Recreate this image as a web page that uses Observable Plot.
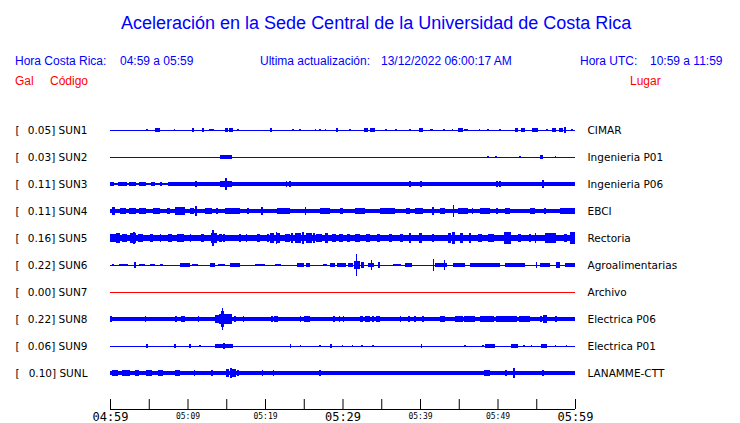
<!DOCTYPE html>
<html><head><meta charset="utf-8">
<script src="https://cdn.jsdelivr.net/npm/d3@7"></script>
<script src="https://cdn.jsdelivr.net/npm/@observablehq/plot@0.6"></script>
<style>
body{margin:0;background:#fff;}
#wrap{position:relative;width:740px;height:423px;overflow:hidden;background:#fff;}
#hdr{position:relative;height:100px;font-family:"Liberation Sans",Arial,sans-serif;}
#hdr span{position:absolute;white-space:pre;line-height:1;}
.t{font-size:18px;color:#0000ff;}
.s{font-size:12px;color:#0000ff;}
.r{font-size:12px;color:#ff0000;}
</style></head><body>
<div id="wrap">
<div id="hdr">
 <span class="t" style="left:121px;top:14px">Aceleración en la Sede Central de la Universidad de Costa Rica</span>
 <span class="s" style="left:15px;top:55px">Hora Costa Rica:</span>
 <span class="s" style="left:120px;top:55px">04:59 a 05:59</span>
 <span class="s" style="left:260px;top:55px">Ultima actualización:</span>
 <span class="s" style="left:381px;top:55px">13/12/2022 06:00:17 AM</span>
 <span class="s" style="left:580px;top:55px">Hora UTC:</span>
 <span class="s" style="left:650px;top:55px">10:59 a 11:59</span>
 <span class="r" style="left:15px;top:75px">Gal</span>
 <span class="r" style="left:50px;top:75px">Código</span>
 <span class="r" style="left:630px;top:75px">Lugar</span>
</div>
<div id="chart"></div>
</div>
<script>
// ---- data ----
const stations = ["SUN1","SUN2","SUN3","SUN4","SUN5","SUN6","SUN7","SUN8","SUN9","SUNL"];
const peakGal  = ["0.05","0.03","0.11","0.11","0.16","0.22","0.00","0.22","0.06","0.10"];
const places   = ["CIMAR","Ingenieria P01","Ingenieria P06","EBCI","Rectoria","Agroalimentarias","Archivo","Electrica P06","Electrica P01","LANAMME-CTT"];
const status   = ["ok","ok","ok","ok","ok","ok","off","ok","ok","ok"];
// envelope segments per station: [start minute, end minute, half amplitude (gal)], minutes after 04:59
const SUN1 = [[4.7,4.9,0.02],[5.8,6.5,0.04],[8.2,8.4,0.02],[10.6,10.8,0.03],[11.9,12.1,0.045],[12.8,13.4,0.02],[14.8,15.2,0.035],[15.4,15.9,0.03],[16.4,16.6,0.02],[20.7,20.9,0.04],[23.5,23.7,0.025],[24.4,24.6,0.02],[26.4,26.6,0.02],[27.0,27.2,0.025],[27.7,27.9,0.02],[29.2,29.4,0.03],[30.9,31.1,0.02],[32.8,33.3,0.03],[33.6,34.2,0.03],[35.5,35.7,0.02],[36.8,37.0,0.02],[38.6,38.8,0.02],[39.9,40.4,0.04],[41.3,41.7,0.025],[43.0,43.2,0.02],[44.1,44.3,0.02],[44.9,45.5,0.03],[45.7,46.2,0.025],[47.6,47.8,0.02],[48.7,48.9,0.02],[50.2,50.4,0.025],[52.2,52.7,0.03],[53.0,53.5,0.03],[54.4,55.2,0.04],[56.3,56.5,0.02],[57.0,57.6,0.03],[57.9,58.4,0.03],[58.6,58.9,0.05],[59.5,59.7,0.02]];
const SUN2 = [[14.2,15.7,0.03],[48.7,48.9,0.02],[49.7,49.9,0.015],[52.8,53.0,0.02],[55.5,55.9,0.03],[57.4,57.6,0.02]];
const SUN3 = [[0,7.5,0.02],[7.5,60,0.04],[0,0.5,0.03],[1.0,2.2,0.035],[2.5,3.3,0.03],[3.8,4.6,0.03],[5.3,5.8,0.03],[6.4,6.7,0.03],[11.0,11.2,0.05],[14.2,15.7,0.065],[14.9,15.1,0.11],[22.7,22.9,0.06],[23.1,23.3,0.05],[38.6,38.8,0.055],[40.0,40.2,0.055],[49.8,50.0,0.055],[50.2,50.4,0.05],[55.7,56.0,0.07]];
const SUN4 = [[0,60,0.04],[0.2,0.6,0.07],[1.3,2.0,0.055],[2.5,3.4,0.06],[3.8,4.6,0.055],[5.6,6.4,0.05],[7.4,7.8,0.055],[8.4,9.7,0.07],[8.9,9.1,0.085],[10.3,10.9,0.06],[11.0,11.2,0.095],[12.2,13.2,0.06],[13.7,13.9,0.065],[14.8,16.8,0.055],[17.7,17.9,0.06],[19.5,19.7,0.07],[21.6,23.2,0.055],[25.1,25.3,0.075],[27.1,28.4,0.055],[29.7,30.0,0.06],[31.6,32.9,0.055],[34.8,36.8,0.055],[38.2,38.7,0.065],[39.4,40.4,0.055],[41.6,41.8,0.075],[42.6,43.2,0.055],[44.2,44.4,0.115],[44.9,46.2,0.065],[46.7,46.9,0.06],[47.7,49.0,0.05],[49.8,50.0,0.06],[51.0,51.6,0.06],[54.2,54.8,0.065],[56.0,56.2,0.065],[58.1,60,0.05]];
const SUN5 = [[0,60,0.058],[0,0.8,0.08],[0.8,1.3,0.095],[1.5,2.2,0.08],[2.6,3.4,0.1],[3.0,3.2,0.115],[3.6,4.3,0.085],[5.2,5.6,0.075],[6.4,6.6,0.07],[7.5,8.0,0.08],[8.6,9.6,0.08],[10.3,10.5,0.07],[11.8,12.1,0.075],[13.0,13.8,0.1],[13.2,13.4,0.16],[14.0,14.4,0.075],[14.6,14.9,0.08],[16.6,16.9,0.085],[17.5,17.7,0.07],[19.0,19.4,0.07],[20.2,20.5,0.085],[20.7,21.2,0.1],[21.4,21.6,0.115],[21.6,21.9,0.09],[22.6,23.2,0.085],[23.4,23.6,0.1],[23.9,24.6,0.09],[24.8,25.0,0.11],[25.3,26.0,0.09],[26.2,26.4,0.105],[26.6,27.3,0.085],[27.8,28.1,0.09],[28.6,29.2,0.08],[29.6,30.0,0.085],[30.6,31.0,0.075],[31.6,32.2,0.075],[33.0,33.6,0.08],[34.5,34.8,0.075],[36,36.4,0.075],[37.4,37.8,0.08],[38.6,38.8,0.095],[39.9,40.2,0.105],[41.6,41.8,0.08],[43.6,44.0,0.09],[44.1,44.5,0.115],[45.2,45.5,0.095],[46.3,46.6,0.1],[47.5,48.0,0.075],[48.8,49.5,0.08],[50.8,51.7,0.11],[51.2,51.4,0.12],[52.6,53.0,0.075],[54.0,54.3,0.08],[54.8,55.0,0.09],[56.1,57.6,0.095],[56.6,56.8,0.105],[58.6,59.0,0.085],[59.4,60,0.115]];
const SUN6 = [[0.3,0.5,0.02],[1.2,2.3,0.025],[3.1,3.3,0.055],[3.8,4.5,0.025],[5.2,5.8,0.025],[6.5,6.8,0.02],[9.0,10.3,0.03],[10.6,11.3,0.025],[12.9,13.6,0.035],[13.9,14.9,0.025],[15.5,16.8,0.03],[18.7,20.0,0.025],[21.3,22.0,0.025],[24.1,25.0,0.035],[25.3,25.8,0.03],[27.5,28.0,0.025],[28.4,29.0,0.03],[29.3,30.5,0.035],[30.7,31.4,0.03],[31.5,32.2,0.07],[31.7,31.85,0.22],[32.4,32.8,0.05],[33.3,34.1,0.04],[33.7,33.85,0.1],[34.6,34.8,0.05],[36.5,37.6,0.025],[38.0,39.0,0.03],[41.7,41.85,0.115],[41.9,43.5,0.035],[43.05,43.2,0.1],[44.2,45.8,0.03],[46.5,50.3,0.03],[51.0,52.3,0.04],[52.3,53.5,0.03],[55.0,55.15,0.06],[55.5,56.8,0.03],[57.5,58.1,0.05],[58.7,60,0.045]];
const SUN7 = [];
const SUN8 = [[0,60,0.04],[0.0,0.3,0.05],[4.5,4.7,0.06],[8.4,8.6,0.055],[9.2,9.7,0.06],[11.3,11.5,0.06],[13.6,14.0,0.08],[14.0,15.0,0.1],[14.3,14.7,0.15],[14.45,14.6,0.22],[15.0,15.7,0.09],[16.0,16.2,0.06],[17.1,17.3,0.055],[20.8,21.0,0.06],[21.2,21.7,0.06],[24.5,24.7,0.055],[25.0,25.8,0.06],[28.8,29.0,0.055],[29.5,29.7,0.055],[30.0,30.2,0.06],[32.3,32.6,0.06],[32.9,33.6,0.06],[33.8,34.0,0.065],[34.3,34.8,0.06],[37.4,37.6,0.055],[38.4,38.7,0.06],[39.2,39.5,0.06],[40.2,40.5,0.06],[42.6,43.2,0.055],[44.5,45.5,0.06],[45.7,47.1,0.06],[47.7,49.5,0.06],[49.8,52.5,0.06],[52.8,54.2,0.06],[55.5,55.7,0.06],[55.9,56.4,0.08],[57.4,57.7,0.055]];
const SUN9 = [[4.7,4.9,0.04],[8.3,8.5,0.03],[10.2,10.4,0.03],[11.5,11.7,0.02],[13.6,15.9,0.04],[14.6,14.8,0.06],[23.2,23.4,0.03],[24.5,24.7,0.02],[27,27.2,0.02],[28.4,28.6,0.03],[29.9,30.1,0.02],[31.2,31.4,0.02],[32.4,32.6,0.02],[33.8,34,0.02],[40.1,40.3,0.03],[45.7,45.9,0.02],[48,48.2,0.02],[48.4,49.7,0.03],[51.7,52.6,0.03],[53.3,53.5,0.02],[54.3,54.5,0.02],[55.6,56.4,0.04],[57.4,57.6,0.02],[58.8,59,0.02]];
const SUNL = [[0,60,0.04],[0.2,1.0,0.05],[1.6,2.6,0.05],[3.2,3.8,0.055],[4.6,5.4,0.05],[6.2,6.8,0.05],[8.4,9.0,0.05],[10.8,11.0,0.065],[13.0,13.3,0.05],[15.0,15.4,0.075],[15.5,15.7,0.105],[15.7,16.2,0.07],[16.4,16.6,0.06],[19.6,19.8,0.05],[21.0,21.2,0.05],[27.0,27.2,0.05],[48.3,48.6,0.06],[48.7,49.0,0.06],[51.0,51.2,0.05],[52.0,52.2,0.1],[55.8,56.0,0.06]];
const envelopes = [SUN1,SUN2,SUN3,SUN4,SUN5,SUN6,SUN7,SUN8,SUN9,SUNL];
const tickMinutes = [0,5,10,15,20,25,30,35,40,45,50,55,60];
const bigTickMinutes = [0,30,60];
const labelTickMinutes = [10,20,40,50];

// ---- layout constants ----
const ROW = 0.52;          // gal between trace baselines
const AXIS_LEVEL = 5.373;  // y level of the time axis line
const T0 = Date.UTC(2022,11,13,4,59);
const t = m => new Date(T0 + m*60000);
const BLUE = "#0000ff", RED = "#ff0000";

const rects = [];
envelopes.forEach((env,i)=>env.forEach(([a,b,amp])=>rects.push({x1:t(a),x2:t(b),y1:i*ROW-amp,y2:i*ROW+amp})));
const rows = stations.map((s,i)=>({s,i,y:i*ROW,gal:peakGal[i],place:places[i],color:status[i]==="off"?RED:BLUE}));
const fmt = d3.utcFormat("%H:%M");
const H = 323, MT = 30, MB = 14;

const chart = Plot.plot({
  width: 740, height: H,
  marginLeft: 110, marginRight: 165, marginTop: MT, marginBottom: MB,
  x: {type:"utc", domain:[t(0),t(60)]},
  y: {domain:[0,AXIS_LEVEL], reverse:true, axis:null},
  style: {background:"#fff"},
  marks: [
    Plot.ruleY(rows, {y:"y", stroke:"color", strokeWidth:1}),
    Plot.rect(rects, {x1:"x1",x2:"x2",y1:"y1",y2:"y2", fill:BLUE, shapeRendering:"crispEdges"}),
    Plot.text(rows, {y:"y", frameAnchor:"left", dx:-95, textAnchor:"start", text:()=>"[", fontFamily:"DejaVu Sans", fontSize:10.5, fill:"#000"}),
    Plot.text(rows, {y:"y", frameAnchor:"left", dx:-23, textAnchor:"end", text:d=>`${d.gal}] ${d.s}`, fontFamily:"DejaVu Sans", fontSize:10.5, fill:"#000"}),
    Plot.text(rows, {y:"y", frameAnchor:"right", dx:12, textAnchor:"start", text:"place", fontFamily:"DejaVu Sans", fontSize:10.5, fill:"#000"}),
    Plot.ruleY([AXIS_LEVEL], {stroke:"#000"}),
    Plot.ruleX(tickMinutes.map(t), {x:d=>d, insetTop: H-MT-MB-10, stroke:"#000"}),
    Plot.axisX(labelTickMinutes.map(t), {tickSize:0, tickPadding:4, fontSize:8, fontFamily:"DejaVu Sans Mono", tickFormat:fmt, label:null, fill:"#000"}),
    Plot.axisX(bigTickMinutes.map(t), {tickSize:0, tickPadding:2.5, fontSize:12, fontFamily:"DejaVu Sans Mono", tickFormat:fmt, label:null, fill:"#000", letterSpacing:"0.3px"})
  ]
});
document.getElementById("chart").appendChild(chart);
</script>
</body></html>
